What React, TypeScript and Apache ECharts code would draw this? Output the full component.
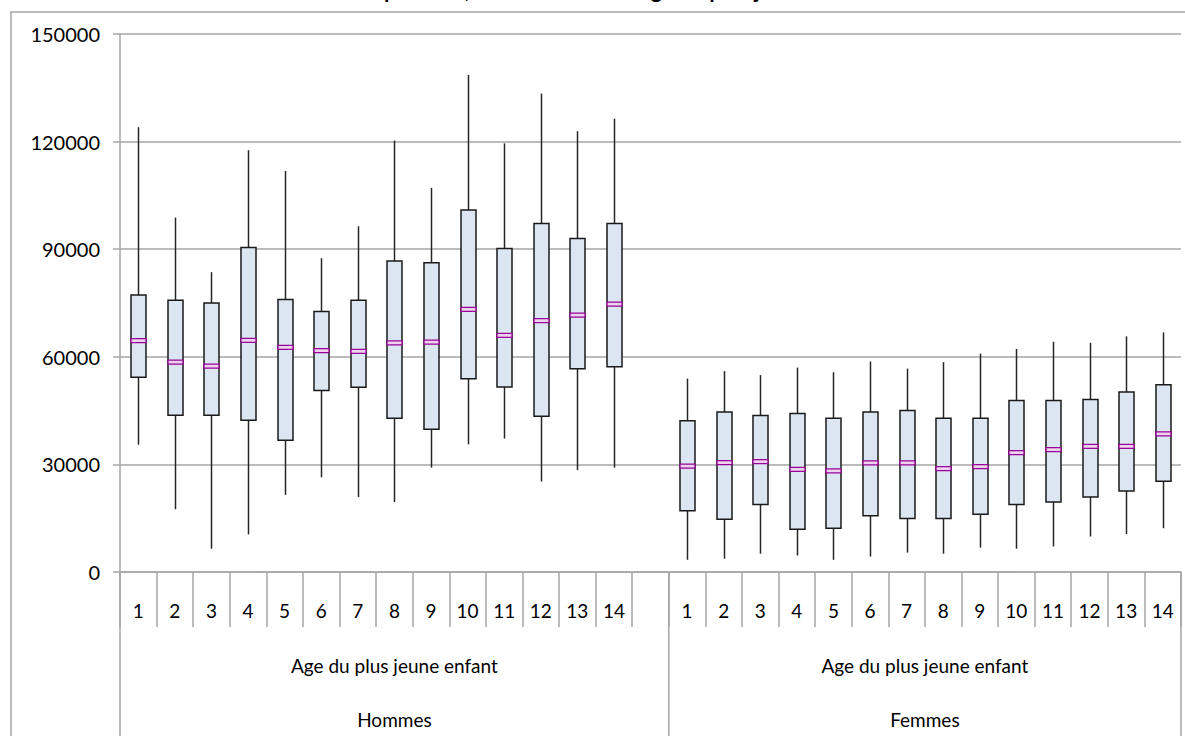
import React, { useEffect, useRef } from "react";
import * as echarts from "echarts";

const categories = ["1","2","3","4","5","6","7","8","9","10","11","12","13","14","","1","2","3","4","5","6","7","8","9","10","11","12","13","14"];
const yTicks = [0, 30000, 60000, 90000, 120000, 150000];

const hommesMin = [35500, 17500, 6500, 10500, 21500, 26400, 20900, 19500, 29100, 35600, 37200, 25200, 28400, 29100];
const hommesQ1 = [54300, 43700, 43700, 42300, 36700, 50600, 51500, 42900, 39800, 53900, 51600, 43400, 56700, 57200];
const hommesMed = [64500, 58500, 57400, 64600, 62600, 61700, 61500, 63900, 64100, 73200, 66000, 70100, 71600, 74700];
const hommesQ3 = [77200, 75800, 75000, 90500, 76000, 72600, 75800, 86700, 86200, 100900, 90200, 97200, 93000, 97200];
const hommesMax = [124000, 98800, 83600, 117600, 111800, 87500, 96400, 120300, 107100, 138600, 119500, 133400, 122900, 126400];

const femmesMin = [3400, 3700, 5100, 4600, 3400, 4300, 5400, 5100, 6800, 6500, 7100, 9900, 10600, 12200];
const femmesQ1 = [17100, 14700, 18800, 11900, 12200, 15700, 14900, 14900, 16100, 18800, 19500, 20900, 22600, 25300];
const femmesMed = [29500, 30500, 30800, 28600, 28200, 30400, 30400, 28800, 29400, 33300, 34100, 35000, 35000, 38500];
const femmesQ3 = [42200, 44600, 43600, 44200, 42900, 44600, 45000, 42900, 42900, 47800, 47800, 48100, 50200, 52200];
const femmesMax = [53900, 56000, 54900, 57000, 55700, 58700, 56700, 58500, 60900, 62200, 64200, 63900, 65700, 66800];

const groupNames = ["Hommes", "Femmes"];
const subTitle = "Age du plus jeune enfant";
const chartTitle = "Salaire annuel par sexe, selon le sexe et l'âge du plus jeune enfant";

const FONT = "Lato, 'Open Sans', sans-serif";
const GRID = "#a6a6a6";

export default function App() {
  const ref = useRef<HTMLDivElement>(null);
  useEffect(() => {
    document.body.style.margin = "0";
    if (!ref.current) return;
    const chart = echarts.init(ref.current, undefined, { renderer: "svg" });

    const data: number[][] = [];
    hommesMin.forEach((_, i) => {
      data.push([i, hommesMin[i], hommesQ1[i], hommesMed[i], hommesQ3[i], hommesMax[i]]);
    });
    femmesMin.forEach((_, i) => {
      data.push([i + 15, femmesMin[i], femmesQ1[i], femmesMed[i], femmesQ3[i], femmesMax[i]]);
    });

    const renderItem = (params: any, api: any) => {
      const x = api.value(0);
      const pMin = api.coord([x, api.value(1)]);
      const pQ1 = api.coord([x, api.value(2)]);
      const pMed = api.coord([x, api.value(3)]);
      const pQ3 = api.coord([x, api.value(4)]);
      const pMax = api.coord([x, api.value(5)]);
      const bw = api.size([1, 0])[0] * 0.41;
      const cx = Math.round(pMed[0]) + 0.5;
      return {
        type: "group",
        children: [
          { type: "line", shape: { x1: cx, y1: pMax[1], x2: cx, y2: pQ3[1] }, style: { stroke: "#262626", lineWidth: 1.5 } },
          { type: "line", shape: { x1: cx, y1: pQ1[1], x2: cx, y2: pMin[1] }, style: { stroke: "#262626", lineWidth: 1.5 } },
          {
            type: "rect",
            shape: { x: cx - bw / 2, y: pQ3[1], width: bw, height: pQ1[1] - pQ3[1] },
            style: { fill: "#dce6f2", stroke: "#1a1a1a", lineWidth: 1.5 },
          },
          {
            type: "rect",
            shape: { x: cx - bw / 2, y: pMed[1] - 2, width: bw, height: 4 },
            style: { fill: "#ecd2ec", stroke: "#990099", lineWidth: 1.3 },
          },
        ],
      };
    };

    chart.setOption({
      animation: false,
      backgroundColor: "#ffffff",
      grid: { left: 120, right: 4, top: 34, bottom: 164, containLabel: false },
      xAxis: {
        type: "category",
        data: categories,
        boundaryGap: true,
        axisLine: { show: true, lineStyle: { color: GRID, width: 1.5 } },
        axisTick: { show: true, interval: 0, length: 55, lineStyle: { color: GRID, width: 1.5 } },
        axisLabel: { interval: 0, margin: 29, color: "#000", fontSize: 19, fontFamily: FONT },
        splitLine: { show: false },
      },
      yAxis: {
        type: "value",
        min: yTicks[0],
        max: yTicks[yTicks.length - 1],
        interval: yTicks[1] - yTicks[0],
        axisLine: { show: true, lineStyle: { color: GRID, width: 1.5 } },
        axisTick: { show: true, length: 7, lineStyle: { color: GRID, width: 1.5 } },
        axisLabel: { color: "#000", fontSize: 20, fontFamily: FONT, margin: 20, formatter: (v: number) => String(v) },
        splitLine: { show: true, lineStyle: { color: GRID, width: 1.5 } },
      },
      series: [
        {
          type: "custom",
          renderItem,
          data,
          encode: { x: 0, y: [1, 2, 3, 4, 5] },
          clip: false,
        },
      ],
    });

    const px = (i: number) => chart.convertToPixel({ xAxisIndex: 0 }, i) as number;
    const py = (v: number) => chart.convertToPixel({ yAxisIndex: 0 }, v) as number;
    const half = (px(1) - px(0)) / 2;
    const left = px(0) - half;
    const divider = (px(14) + px(15)) / 2;
    const right = px(28) + half;
    const axisY = py(0);
    const H = 736;

    const vline = (x: number) => ({
      type: "line",
      shape: { x1: x, y1: axisY, x2: x, y2: H },
      style: { stroke: GRID, lineWidth: 1.5 },
      silent: true,
    });
    const label = (text: string, x: number, y: number) => ({
      type: "text",
      x,
      y,
      style: { text, fill: "#000", font: `19px ${FONT}`, align: "center", verticalAlign: "middle" },
      silent: true,
    });

    chart.setOption({
      graphic: [
        {
          type: "rect",
          shape: { x: 11, y: 12, width: 1200, height: 800 },
          style: { fill: "none", stroke: GRID, lineWidth: 1.5 },
          silent: true,
          z: -1,
        },
        {
          type: "text",
          x: 560,
          y: 0,
          style: { text: chartTitle, fill: "#000", font: `bold 22px ${FONT}`, align: "center", verticalAlign: "bottom" },
          silent: true,
        },
        vline(left),
        vline(divider),
        vline(right),
        label(subTitle, (left + divider) / 2, 665),
        label(subTitle, (divider + right) / 2, 665),
        label(groupNames[0], (left + divider) / 2, 719),
        label(groupNames[1], (divider + right) / 2, 719),
      ],
    });

    return () => chart.dispose();
  }, []);
  return <div ref={ref} style={{ width: 1185, height: 736 }} />;
}
